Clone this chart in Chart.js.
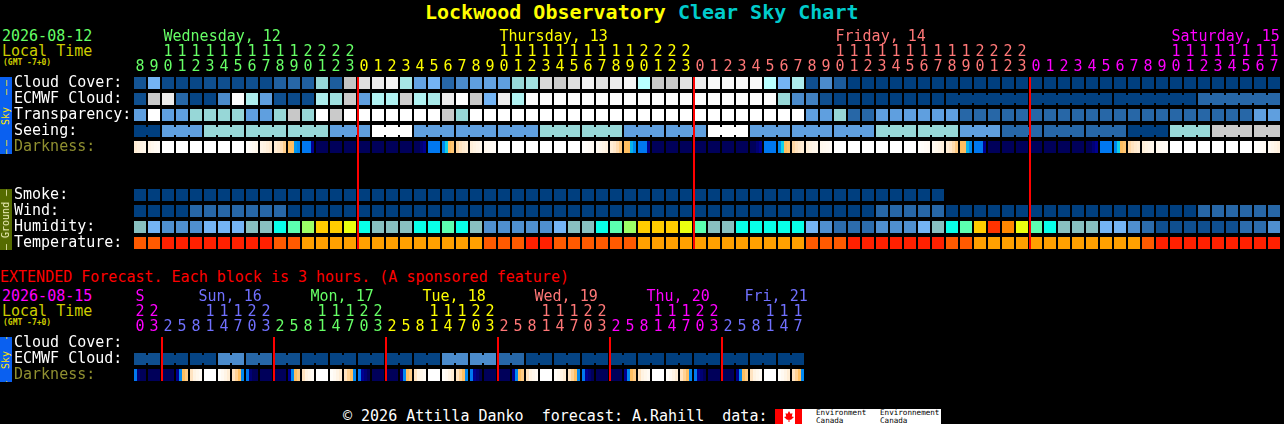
<!DOCTYPE html>
<html>
<head>
<meta charset="utf-8">
<title>Lockwood Observatory Clear Sky Chart</title>
<script src="https://cdn.jsdelivr.net/npm/chart.js@4"></script>
<style>
    html, body { margin: 0; background: #000; width: 1284px; height: 424px; overflow: hidden; }
    canvas { position: absolute; left: 0; }
    .t { position: absolute; white-space: pre; font: 15px/15px 'DejaVu Sans Mono', monospace; }
    .strip { position: absolute; left: 0; width: 12px; overflow: hidden; }
    .strip span { position: absolute; left: 6px; top: 50%; transform: translate(-50%, -50%) rotate(-90deg);
        white-space: pre; font: 10px/12px 'DejaVu Sans Mono', monospace; }
    .strip i { font-style: normal; letter-spacing: 3px; }
</style>
</head>
<body>
<div class="t" style="left:425px;top:0;font:bold 20px/24px 'DejaVu Sans Mono',monospace;color:#ffff00">Lockwood Observatory <span style="color:#00cccc">Clear Sky Chart</span></div>

<div class="t" style="left:2px;top:29px;color:#66ff66">2026-08-12</div>
<div class="t" style="left:2px;top:44px;color:#cccc00">Local Time</div>
<div class="t" style="left:3px;top:58px;font:bold 8px/10px 'DejaVu Sans Mono',monospace;color:#cccc00">(GMT -7+0)</div>
<canvas id="mainChart" style="top:0"></canvas>

<div class="strip" style="top:77px;height:77px;background:#0a60f0;color:#ffe600"><span><i>——</i>  Sky  <i>——</i></span></div>
<div class="strip" style="top:189px;height:61px;background:#556b00;color:#f4f4c0"><span>— Ground —</span></div>

<div class="t" style="left:0;top:270px;color:#ff0000">EXTENDED Forecast. Each block is 3 hours. (A sponsored feature)</div>
<div class="t" style="left:2px;top:289px;color:#ff00ff">2026-08-15</div>
<div class="t" style="left:2px;top:304px;color:#cccc00">Local Time</div>
<div class="t" style="left:3px;top:318px;font:bold 8px/10px 'DejaVu Sans Mono',monospace;color:#cccc00">(GMT -7+0)</div>
<canvas id="extChart" style="top:260px"></canvas>
<div class="strip" style="top:337px;height:45px;background:#0a60f0;color:#ffe600"><span>—  Sky  —</span></div>

<div class="t" style="left:343px;top:409px;color:#fff">© 2026 Attilla Danko  forecast: A.Rahill  data:</div>
<div style="position:absolute;left:775px;top:409px;width:166px;height:15px;background:#fff;overflow:hidden">
    <div style="position:absolute;left:0;top:0;width:8px;height:15px;background:#f00"></div>
    <div style="position:absolute;left:20px;top:0;width:7px;height:15px;background:#f00"></div>
    <div style="position:absolute;left:9px;top:2px;width:10px;height:11px;background:#f00;clip-path:polygon(50% 0,65% 25%,85% 20%,78% 50%,100% 55%,70% 80%,55% 80%,55% 100%,45% 100%,45% 80%,30% 80%,0 55%,22% 50%,15% 20%,35% 25%)"></div>
    <div class="t" style="left:41px;top:0;font:7.6px/7.5px 'DejaVu Sans Mono',monospace;color:#000">Environment
Canada</div>
    <div class="t" style="left:105px;top:0;font:7.6px/7.5px 'DejaVu Sans Mono',monospace;color:#000">Environnement
Canada</div>
</div>

<script>
// hours under each block
const mainHours = [8,9,10,11,12,13,14,15,16,17,18,19,20,21,22,23,
    0,1,2,3,4,5,6,7,8,9,10,11,12,13,14,15,16,17,18,19,20,21,22,23,
    0,1,2,3,4,5,6,7,8,9,10,11,12,13,14,15,16,17,18,19,20,21,22,23,
    0,1,2,3,4,5,6,7,8,9,10,11,12,13,14,15,16,17];
const extHours = [20,23,
    2,5,8,11,14,17,20,23, 2,5,8,11,14,17,20,23, 2,5,8,11,14,17,20,23,
    2,5,8,11,14,17,20,23, 2,5,8,11,14,17,20,23, 2,5,8,11,14,17];

const mainDays = ['Wednesday, 12', 'Thursday, 13', 'Friday, 14', 'Saturday, 15'];
const mainDayColors = ['#66ff66', '#ffff00', '#ff7777', '#ff00ff'];
const mainDayStarts = [0, 16, 40, 64];      // block where the day begins
const mainLabelAt = [2, 26, 50, 74];        // block under the day's name

const extDays = ['S', 'Sun, 16', 'Mon, 17', 'Tue, 18', 'Wed, 19', 'Thu, 20', 'Fri, 21'];
const extDayColors = ['#ff00ff', '#7070ff', '#66ff66', '#ffff00', '#ff7777', '#ff00ff', '#7070ff'];
const extDayStarts = [0, 2, 10, 18, 26, 34, 42];
const extLabelAt = [0, 4.5, 12.5, 20.5, 28.5, 36.5, 43.5];

const rowNames = ['Cloud Cover:', 'ECMWF Cloud:', 'Transparency:', 'Seeing:', 'Darkness:', '', '',
    'Smoke:', 'Wind:', 'Humidity:', 'Temperature:'];
const extRowNames = ['Cloud Cover:', 'ECMWF Cloud:', 'Darkness:'];

// sky levels, see skyRamp
const cloudCover = [1.2,5,.7,.5,.5,1,1,.7,1,.7,
    1.7,2,1.7,6,1.6,9,10.3,11,11.7,6.7,
    4.2,5,2,3,4,4.2,4,6,6.5,10,
    9.3,10.3,11.5,10.5,11,11.8,8,9.3,9.3,10.5,
    11,12,12,12,12,8,5,7,1,3,
    1.5,0,0,0,0,0,0,0,0,0,
    0,0,0,0,0,0,0,0,0,0,
    0,0,0,0,0,0,0,0,0,0,0,0];
const ecmwfCloud = [1,9.3,11,2,.4,.3,3,12.5,7,4,
    1,.7,.8,7,6.3,9.3,4,7.3,7.3,9.5,
    7.3,6.8,11,13,9.2,5,11,7.3,12.5,12.5,
    12.5,12.5,12.5,12.5,12.5,12.5,12.5,12.5,12.5,12.5,
    12.5,12.5,12.5,12.5,12.5,12.5,6,3,2.7,1,
    .2,.2,0,0,0,0,0,0,.1,.1,
    .1,.1,.1,.1,.1,.1,.1,.1,.1,.1,
    .1,.1,.1,.1,.1,.1,2,2,2,2,2,2];
const transparency = [4,13,4,4,6,6,6,6,4,4,
    6,9.2,6,13,9.3,13,13,13,13,13,
    13,13,9.3,6,13,13,13,13,13,13,
    13,13,13,13,13,13,13,13,13,13,
    13,13,13,13,13,13,13,13,4,4,
    6,2,2,4,4,4,4,4,4,2,
    2,2,2,2,2,2,2,2,2,2,
    2,2,2,2,2,2,2,2,2,2,4,4];
const seeing = [0,0, 4,4,4, 6,6,6, 6,6,6, 6,6,6, 4,4,4, 13,13,13, 4,4,4, 4,4,4, 4,4,4,
    6,6,6, 6,6,6, 4,4,4, 4,4,4, 13,13,13, 4,4,4, 4,4,4, 4,4,4, 6,6,6, 6,6,6,
    4,4,4, 2,2,2, 2,2,2, 2,2,2, 0,0,0, 6,6,6, 9.3,9.3,9.3, 9.3,9.3];
const smoke = [0,0,0,0,0,0,0,0,0,0,0,0,0,0,0,0,0,0,0,0,0,0,0,0,0,0,0,0,0,
    0,0,0,0,0,0,0,0,0,0,0,0,0,0,0,0,0,0,0,0,0,0,0,0,0,0,0,0,0];
const wind = [0,0,0,0,2,2,2,2,2,2,2,0,0,0,0,0,0,0,0,0,
    0,0,0,0,0,0,0,0,0,0,0,0,0,0,0,0,0,0,0,0,
    0,0,0,0,0,0,0,0,0,0,0,0,0,2,2,2,2,2,0,0,
    0,0,0,0,0,0,0,0,0,0,0,0,0,0,0,0,2,2,2,2,2,2];
// humidity classes, see humidityColors
const humidity = [4,3,2,2,2,3,3,3,4,4,5,6,7,9,9,8,5,4,4,4,
    5,5,6,5,4,2,2,2,2,2,3,4,4,5,6,7,9,9,9,8,
    6,4,4,5,5,5,5,5,3,2,1,1,1,2,2,2,3,4,5,6,
    9,11,10,8,6,5,4,4,4,3,3,2,1,0,0,0,0,0,0,1,1,2];
// temperature classes, see temperatureColors
const temperature = [1,1,0,0,0,0,0,0,0,0,1,1,2,2,2,2,2,2,2,2,
    2,2,2,2,2,1,1,1,0,0,1,1,1,1,1,1,2,2,2,2,
    2,2,2,2,2,2,2,2,1,1,1,0,0,0,0,0,0,0,1,1,
    2,2,2,2,2,2,2,2,2,2,2,2,1,0,0,0,0,0,0,0,0,0];
// four readings per block, see darkRamp
const darkness = [1.3,1.1,.9,.7, .8,.6,.4,.3, 0,0,0,0, 0,0,0,0,
    0,0,0,0, 0,0,0,0, 0,0,0,0, 0,0,0,0,
    .2,.3,.5,.7, .8,1,1.2,1.4, 1.3,1.6,2,2.5, 3,3,5,5.5,
    6,6,6,7, 8,8,8,8, 8,8,8,8, 8,8,8,8,
    8,8,8,8, 8,8,8,8, 8,8,8,8, 8,8,8,8,
    8,8,7.5,7, 6,6,6,6, 5.5,4,3,2.8, 2.2,1.8,1.5,1.3,
    1.2,1,.8,.7, .6,.5,.4,.3, 0,0,0,0, 0,0,0,0,
    0,0,0,0, 0,0,0,0, 0,0,0,0, 0,0,0,0,
    .1,.2,.3,.4, .5,.7,.9,1.1, 1.3,1.6,2.1,2.6, 3,3,4.5,5.5,
    6,6,6,7, 8,8,8,8, 8,8,8,8, 8,8,8,8,
    8,8,8,8, 8,8,8,8, 8,8,8,8, 8,8,8,8,
    8,8,7.5,7, 6,6,6,6, 5.5,4,3,2.8, 2.2,1.8,1.5,1.3,
    1.2,1,.8,.7, .6,.5,.4,.3, 0,0,0,0, 0,0,0,0,
    0,0,0,0, 0,0,0,0, 0,0,0,0, 0,0,0,0,
    .1,.2,.3,.4, .5,.7,.9,1.1, 1.3,1.6,2.1,2.6, 3,3,4.5,5.5,
    6,6,6,7, 8,8,8,8, 8,8,8,8, 8,8,8,8,
    8,8,8,8, 8,8,8,8, 8,8,8,8, 8,8,8,8,
    8,8,7.5,7, 6,6,6,6, 5.5,4,3,2.8, 2.2,1.8,1.5,1.3,
    1.2,1,.8,.7, .6,.5,.4,.3, 0,0,0,0, 0,0,0,0,
    0,0,0,0, 0,0,0,0, 0,0,0,0, 0,0,0,0,
    .1,.2,.3,.4, .5,.7,.9,1.1];

const extEcmwf = [1,1, .4,.4, .3,.3, 3,3, 2,2, 1,1, .3,.3, .3,.3, .3,.3, .3,.3, .3,.3, 3,3,
    3,3, 2,2, .3,.3, .3,.3, .1,.1, .1,.1, 0,0, 0,0, 0,0, 0,0, 0,0, 0,0];
const extDarkness = [6,7.5,8,8, 8,8,8,8, 8,8,8,8, 7,5.5,3,2.6,
    1.8,1,.7,.4, 0,0,0,0, .2,.5,.9,1.3, 1.8,2.4,3,5.5,
    6,7.5,8,8, 8,8,8,8, 8,8,8,8, 7,5.5,3,2.6,
    1.8,1,.7,.4, 0,0,0,0, .2,.5,.9,1.3, 1.8,2.4,3,5.5,
    6,7,7.5,8, 8,8,8,8, 8,8,8,8, 7,5.5,3,2.6,
    1.8,1,.7,.4, 0,0,0,0, .2,.5,.9,1.3, 1.8,2.4,3,5.5,
    6,7,7.5,8, 8,8,8,8, 8,8,8,8, 7,5.5,3,2.6,
    1.8,1,.7,.4, 0,0,0,0, .2,.5,.9,1.3, 1.8,2.4,3,5.5,
    6,7,7.5,8, 8,8,8,8, 8,8,8,8, 7,5.5,3,2.6,
    1.8,1,.7,.4, 0,0,0,0, .2,.5,.9,1.3, 1.8,2.4,3,5.5,
    6,7,7.5,8, 8,8,8,8, 8,8,8,8, 7,5.5,3,2.6,
    1.8,1,.7,.4, 0,0,0,0, .2,.5,.9,1.3, 1.8,2.4,3,5.5];

const skyRamp = ['#003f7f','#0f4f8f','#2767a7','#4b8bcb','#5f9fdf','#74b4f4','#97d7d7',
    '#adeded','#b8ffff','#c4c4c4','#d8d8d8','#ececec','#f8f8f8','#ffffff'];
const darkRamp = ['#ffffff','#fff3e2','#ffdfb8','#ffbe60','#10d0e8','#0098f0','#0078f0','#000090','#00005a'];
const humidityColors = ['#0f4f8f','#2c6cac','#4f8fcf','#74b4f4','#88c0c0','#08ffe8',
    '#5cffb0','#9cff66','#eaff10','#ffcc00','#ff8800','#ff3300'];
const temperatureColors = ['#ff2000','#ff5a00','#ffa000'];

const FONT = "'DejaVu Sans Mono', monospace";
const STEP = 14;    // px per block

function ramp(colors, level) {
    const lo = Math.floor(level);
    const hi = Math.min(lo + 1, colors.length - 1);
    const f = level - lo;
    const rgb = c => [1, 3, 5].map(p => parseInt(c.substr(p, 2), 16));
    const a = rgb(colors[lo]), b = rgb(colors[hi]);
    return `rgb(${a.map((v, i) => Math.round(v + (b[i] - v) * f)).join(',')})`;
}

function barSet(points, colors, thickness, order) {
    return {
        data: points, backgroundColor: colors, barThickness: thickness, order: order,
        stack: 'all', borderWidth: 0, inflateAmount: 0
    };
}

// one row of 12px blocks
function blocks(values, row, colorOf) {
    return barSet(values.map((v, i) => ({ x: i, y: [row - .375, row + .375] })),
        values.map(colorOf), 12, 2);
}

// narrow bridge between blocks that belong together
function joins(values, row, colorOf, first, size) {
    const pts = [], cols = [];
    values.forEach((v, i) => {
        if (i >= first && i + 1 < values.length && (i - first) % size !== size - 1) {
            pts.push({ x: i + .5, y: [row - .25, row + .25] });
            cols.push(colorOf(v));
        }
    });
    return barSet(pts, cols, 2, 2);
}

function strips(values, row) {
    return barSet(values.map((v, i) => {
        const block = Math.floor(i / 4);
        return { x: block + ((i % 4 + .5) * 3 - 6) / STEP, y: [row - .375, row + .375] };
    }), values.map(v => ramp(darkRamp, v)), 3, 2);
}

function midnights(starts, lastRow) {
    return barSet(starts.map(s => ({ x: s - 6 / STEP, y: [-.375, lastRow + .375] })), '#ff0000', 2, 1);
}

const sky = v => ramp(skyRamp, v);

function makeChart(id, cfg) {
    const canvas = document.getElementById(id);
    canvas.width = 133 + cfg.hours.length * STEP + cfg.padRight;
    canvas.height = 75 + cfg.rows.length * 16;
    const colorAt = i => {
        let d = 0;
        cfg.dayStarts.forEach((s, n) => { if (i >= s) d = n; });
        return cfg.dayColors[d];
    };
    return new Chart(canvas, {
        type: 'bar',
        data: { datasets: cfg.datasets },
        options: {
            responsive: false,
            animation: false,
            layout: { padding: { left: 14, right: cfg.padRight } },
            plugins: { legend: { display: false }, tooltip: { enabled: false } },
            scales: {
                x: {
                    type: 'linear', position: 'top', offset: false,
                    min: -.5, max: cfg.hours.length - .5,
                    grid: { display: false, drawTicks: false }, border: { display: false },
                    afterBuildTicks: s => { s.ticks = cfg.hours.map((h, i) => ({ value: i })); },
                    afterFit: s => { s.height = 75; s.paddingLeft = 0; s.paddingRight = 0; },
                    ticks: {
                        autoSkip: false, maxRotation: 0, minRotation: 0, padding: .5,
                        font: { family: FONT, size: 15, lineHeight: 1 },
                        color: c => colorAt(c.index),
                        callback: (v, i) => {
                            const h = cfg.hours[i];
                            return h < 10 ? ['', String(h)] : [String(h)[0], String(h)[1]];
                        }
                    }
                },
                y: {
                    type: 'linear', reverse: true, stacked: false,
                    min: -.5, max: cfg.rows.length - .5,
                    grid: { display: false, drawTicks: false }, border: { display: false },
                    afterBuildTicks: s => { s.ticks = cfg.rows.map((r, i) => ({ value: i })); },
                    afterFit: s => { s.width = 119; s.paddingTop = 0; s.paddingBottom = 0; },
                    ticks: {
                        autoSkip: false, crossAlign: 'far', padding: 0,
                        font: { family: FONT, size: 15, lineHeight: 1 },
                        color: c => cfg.rows[c.index] === 'Darkness:' ? '#8f8f30' : '#ffffff',
                        callback: (v, i) => cfg.rows[i]
                    }
                }
            }
        },
        plugins: [{
            id: 'dayNames',
            afterDraw(chart) {
                const ctx = chart.ctx;
                ctx.save();
                ctx.font = `15px ${FONT}`;
                ctx.textAlign = 'left';
                ctx.textBaseline = 'middle';
                cfg.days.forEach((name, n) => {
                    ctx.fillStyle = cfg.dayColors[n];
                    ctx.fillText(name, chart.scales.x.getPixelForValue(cfg.labelAt[n]) - 4.5, 37);
                });
                ctx.restore();
            }
        }]
    });
}

makeChart('mainChart', {
    hours: mainHours, rows: rowNames, padRight: 3,
    days: mainDays, dayColors: mainDayColors, dayStarts: mainDayStarts, labelAt: mainLabelAt,
    datasets: [
        midnights(mainDayStarts.slice(1), 10),
        blocks(cloudCover, 0, sky),
        blocks(ecmwfCloud, 1, sky),
        joins(ecmwfCloud, 1, sky, 58, 6),
        blocks(transparency, 2, sky),
        blocks(seeing, 3, sky),
        joins(seeing, 3, sky, -1, 3),
        strips(darkness, 4),
        blocks(smoke, 7, sky),
        blocks(wind, 8, sky),
        blocks(humidity, 9, v => humidityColors[v]),
        blocks(temperature, 10, v => temperatureColors[v])
    ]
});

makeChart('extChart', {
    hours: extHours, rows: extRowNames, padRight: 20,
    days: extDays, dayColors: extDayColors, dayStarts: extDayStarts, labelAt: extLabelAt,
    datasets: [
        midnights(extDayStarts.slice(1), 2),
        blocks(extEcmwf, 1, sky),
        joins(extEcmwf, 1, sky, 0, 2),
        strips(extDarkness, 2)
    ]
});
</script>
</body>
</html>
